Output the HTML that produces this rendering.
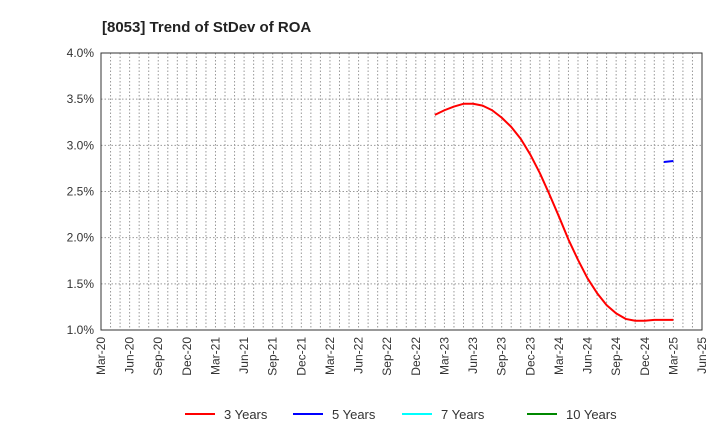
<!DOCTYPE html>
<html><head><meta charset="utf-8"><style>
body{margin:0;background:#fff;font-family:"Liberation Sans",Arial,sans-serif}
</style></head><body>
<svg id="c" width="720" height="440" xmlns="http://www.w3.org/2000/svg">
<text x="102" y="32" font-size="15" font-weight="bold" fill="#222">[8053]  Trend of StDev of ROA</text>
<g id="grid"></g><g id="axes"></g><g id="series"></g><g id="legend"></g>
</svg>
<script>
const xLabels=["Mar-20","Jun-20","Sep-20","Dec-20","Mar-21","Jun-21","Sep-21","Dec-21","Mar-22","Jun-22","Sep-22","Dec-22","Mar-23","Jun-23","Sep-23","Dec-23","Mar-24","Jun-24","Sep-24","Dec-24","Mar-25","Jun-25"];
const yTicks=[1.0,1.5,2.0,2.5,3.0,3.5,4.0];
const y3Start=35;
const y3Values=[3.33,3.38,3.42,3.45,3.45,3.43,3.38,3.30,3.20,3.07,2.90,2.70,2.47,2.23,1.98,1.76,1.56,1.40,1.27,1.18,1.12,1.10,1.10,1.11,1.11,1.11];
const y5Start=59;
const y5Values=[2.82,2.83];
const NS="http://www.w3.org/2000/svg";
const L=101,R=702,T=53,B=330,months=63;
const xs=m=>L+m*(R-L)/months;
const ys=v=>B-(v-1)*(B-T)/3;
function mk(t,a,p){const e=document.createElementNS(NS,t);for(const k in a)e.setAttribute(k,a[k]);p.appendChild(e);return e;}
const g=document.getElementById('grid'),ax=document.getElementById('axes'),s=document.getElementById('series'),lg=document.getElementById('legend');
for(let m=1;m<months;m++){const l=mk('line',{x1:xs(m),x2:xs(m),y1:T,y2:B,stroke:'#999','stroke-dasharray':'1.5,2','stroke-width':1},g);
}
yTicks.forEach(v=>{const l=mk('line',{x1:L,x2:R,y1:ys(v),y2:ys(v),stroke:'#999','stroke-dasharray':'1.5,2','stroke-width':1},g);

const t=mk('text',{x:L-7,y:ys(v)+4,'text-anchor':'end','font-size':12,fill:'#333'},ax);t.textContent=v.toFixed(1)+'%';
});
const fr=mk('rect',{x:L,y:T,width:R-L,height:B-T,fill:'none',stroke:'#333','stroke-width':1},ax);

xLabels.forEach((lab,i)=>{const x=xs(i*3);const t=mk('text',{x:0,y:0,transform:`translate(${x+4},337) rotate(-90)`,'text-anchor':'end','font-size':12,fill:'#333'},ax);t.textContent=lab;
});
function line(start,vals,col,name){const p=mk('polyline',{points:vals.map((v,i)=>xs(start+i)+','+ys(v)).join(' '),fill:'none',stroke:col,'stroke-width':2,'stroke-linejoin':'round'},s);
}
line(y3Start,y3Values,'#f00','series-3-years');
line(y5Start,y5Values,'#00f','series-5-years');
[["3 Years","#f00",185],["5 Years","#00f",293],["7 Years","#0ff",402],["10 Years","#080",527]].forEach(([n,c,x])=>{
const l=mk('line',{x1:x,x2:x+30,y1:414,y2:414,stroke:c,'stroke-width':2},lg);
const t=mk('text',{x:x+39,y:419,'font-size':13,fill:'#333'},lg);t.textContent=n;});
</script>
</body></html>
